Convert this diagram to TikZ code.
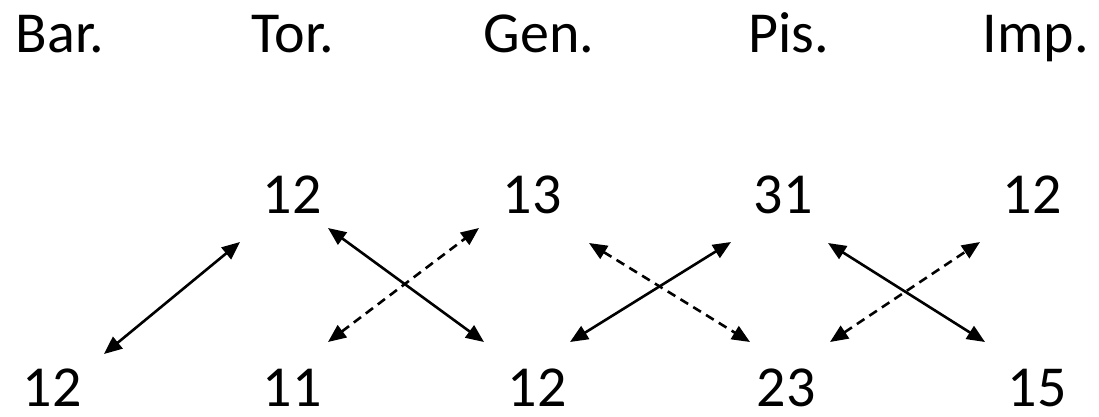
\documentclass[tikz,border=0pt]{standalone}
\usepackage{fontspec}
\setmainfont{Carlito}
\usetikzlibrary{arrows.meta}
\tikzset{
  lbl/.style={anchor=base, inner sep=0pt, font=\fontsize{58}{70}\selectfont},
  arr/.style={line width=2.6pt, {Triangle[length=18pt,width=15pt]}-{Triangle[length=18pt,width=15pt]}},
  darr/.style={arr, dash pattern=on 9pt off 6pt}
}
\begin{document}
\begin{tikzpicture}[x=1pt,y=-1pt]
\useasboundingbox (0,0) rectangle (1099,416);
% headers
\node[lbl] (h1) at (60,52) {Bar.};
\node[lbl] (h2) at (293,52) {Tor.};
\node[lbl] (h3) at (539,52) {Gen.};
\node[lbl] (h4) at (789,52) {Pis.};
\node[lbl] (h5) at (1036,52) {Imp.};
% top numbers
\node[lbl] (t1) at (292,213) {12};
\node[lbl] (t2) at (532,213) {13};
\node[lbl] (t3) at (783,213) {31};
\node[lbl] (t4) at (1032,213) {12};
% bottom numbers
\node[lbl] (b1) at (52,406) {12};
\node[lbl] (b2) at (292,406) {11};
\node[lbl] (b3) at (537,406) {12};
\node[lbl] (b4) at (786,406) {23};
\node[lbl] (b5) at (1037,406) {15};
% arrow end points
\coordinate (a1s) at (104,354); \coordinate (a1e) at (240,242);
\coordinate (a2s) at (328,228); \coordinate (a2e) at (484,342);
\coordinate (a3s) at (328,342); \coordinate (a3e) at (479,228);
\coordinate (a4s) at (589,243); \coordinate (a4e) at (750,342);
\coordinate (a5s) at (570,342); \coordinate (a5e) at (731,242);
\coordinate (a6s) at (828,243); \coordinate (a6e) at (985,342);
\coordinate (a7s) at (830,342); \coordinate (a7e) at (980,242);
\draw[arr] (a1s) -- (a1e);
\draw[arr] (a2s) -- (a2e);
\draw[darr] (a3s) -- (a3e);
\draw[darr] (a4s) -- (a4e);
\draw[arr] (a5s) -- (a5e);
\draw[arr] (a6s) -- (a6e);
\draw[darr] (a7s) -- (a7e);
\end{tikzpicture}
\end{document}
